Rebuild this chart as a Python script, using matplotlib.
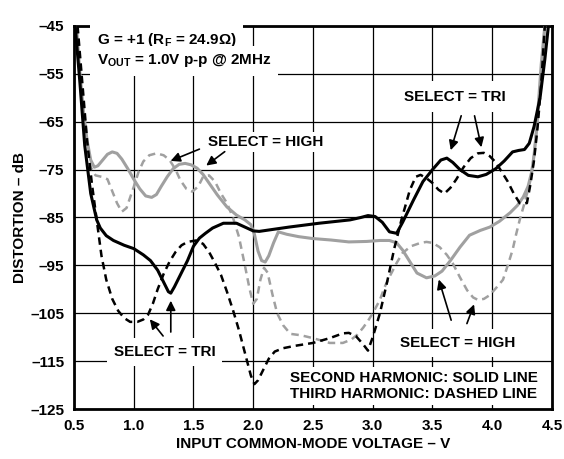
import matplotlib
matplotlib.use('Agg')
import matplotlib.pyplot as plt

# Fuente tipo Arial en negrita para todo el grafico
plt.rcParams['font.family'] = 'Liberation Sans'
plt.rcParams['font.weight'] = 'bold'
plt.rcParams['mathtext.fontset'] = 'custom'
plt.rcParams['mathtext.rm'] = 'Liberation Sans:bold'
plt.rcParams['mathtext.bf'] = 'Liberation Sans:bold'

# ---- datos ----
# SELECT = TRI, segundo armonico (negro, solido)
tri2_x = [0.51, 0.55, 0.59, 0.64, 0.69, 0.72, 0.77, 0.83, 0.92, 1.0, 1.08, 1.14, 1.20, 1.25, 1.29,
          1.31, 1.34, 1.40, 1.45, 1.50, 1.55, 1.60, 1.66, 1.75, 1.86, 1.93, 2.0, 2.05, 2.3, 2.55,
          2.81, 2.9, 2.96, 3.02, 3.08, 3.14, 3.2, 3.25, 3.34, 3.42, 3.5, 3.57, 3.62, 3.67, 3.73,
          3.8, 3.88, 3.95, 4.03, 4.10, 4.17, 4.22, 4.27, 4.31, 4.35, 4.40, 4.44, 4.47]
tri2_y = [-45, -57, -70, -80, -85.5, -87.2, -88.8, -89.8, -90.8, -91.5, -92.8, -94, -96, -98.5, -100.5,
          -100.8, -99.5, -96.5, -94, -91, -89.3, -88.3, -87.2, -86.2, -86.2, -87, -87.8, -87.9, -87, -86.2,
          -85.5, -85, -84.6, -84.8, -86, -88, -88.3, -86, -81.4, -77.5, -75, -73, -72.6, -73.5, -75,
          -76.2, -76.5, -76, -74.8, -73.2, -71.3, -71, -70.8, -69.5, -66, -60, -52, -45]

# SELECT = TRI, tercer armonico (negro, discontinuo)
tri3_x = [0.53, 0.57, 0.61, 0.65, 0.69, 0.73, 0.77, 0.82, 0.87, 0.92, 0.97, 1.03, 1.08, 1.12, 1.16,
          1.20, 1.25, 1.30, 1.35, 1.40, 1.45, 1.52, 1.58, 1.63, 1.68, 1.73, 1.78, 1.83, 1.88, 1.94,
          1.98, 2.01, 2.04, 2.08, 2.13, 2.18, 2.25, 2.35, 2.5, 2.64, 2.75, 2.80, 2.86, 2.92, 2.96,
          3.0, 3.06, 3.12, 3.18, 3.24, 3.31, 3.36, 3.40, 3.45, 3.50, 3.55, 3.60, 3.65, 3.70, 3.76,
          3.82, 3.88, 3.93, 3.98, 4.03, 4.08, 4.13, 4.18, 4.23, 4.29, 4.32, 4.35, 4.38, 4.41, 4.44]
tri3_y = [-45, -57, -69, -78, -85.5, -93, -98, -102, -104.5, -106, -106.8, -106.8, -106.3, -105.3, -103,
          -100, -96.8, -94.2, -92.2, -90.8, -90.1, -89.8, -90.5, -92.2, -94.5, -97, -100.5, -104.3, -108.5, -114.2,
          -118, -119.8, -119, -117, -114.5, -113, -112.3, -111.8, -111.2, -110.2, -109.2, -109.1, -109.8, -111.5, -112.8,
          -110, -105, -98.5, -91.5, -85.5, -79.3, -76.5, -76.1, -76.8, -77.8, -79.2, -80, -78.8, -77, -74.5,
          -72.6, -71.6, -71.5, -72.2, -73.5, -75.5, -77.5, -80, -82, -82, -78, -73, -66, -57, -45]

# SELECT = HIGH, segundo armonico (gris, solido)
high2_x = [0.52, 0.55, 0.58, 0.61, 0.64, 0.67, 0.70, 0.74, 0.78, 0.82, 0.86, 0.90, 0.95, 1.0, 1.05,
           1.10, 1.15, 1.19, 1.23, 1.28, 1.33, 1.38, 1.43, 1.48, 1.53, 1.58, 1.63, 1.70, 1.78, 1.86,
           1.93, 1.98, 2.01, 2.04, 2.07, 2.10, 2.13, 2.17, 2.21, 2.28, 2.38, 2.5, 2.65, 2.8, 2.95,
           3.06, 3.14, 3.20, 3.25, 3.30, 3.37, 3.45, 3.52, 3.58, 3.65, 3.73, 3.81, 3.90, 3.98, 4.06,
           4.15, 4.21, 4.26, 4.30, 4.33, 4.35, 4.37, 4.39, 4.41, 4.44]
high2_y = [-45, -55, -63, -69, -73, -74.5, -74.2, -73, -71.8, -71.3, -71.6, -72.8, -74.8, -77, -79,
           -80.5, -80.8, -80.2, -78.5, -76.5, -74.8, -73.9, -73.7, -74, -74.7, -76, -77.8, -80.3, -82.8, -84.5,
           -85.5, -86.5, -88.5, -92, -94, -94.3, -93, -90.3, -88, -88.5, -89, -89.4, -89.7, -90.1, -90,
           -89.8, -89.8, -90.3, -91.8, -93.8, -96.6, -97.6, -97.2, -96.2, -94, -91.2, -88.7, -87.7, -87, -85.8,
           -84, -82.5, -80.7, -78.5, -75.5, -72, -67, -60, -53, -45]

# SELECT = HIGH, tercer armonico (gris, discontinuo)
high3_x = [0.52, 0.55, 0.58, 0.61, 0.64, 0.68, 0.73, 0.78, 0.82, 0.86, 0.90, 0.94, 1.0, 1.04, 1.08,
           1.13, 1.19, 1.25, 1.30, 1.35, 1.39, 1.44, 1.49, 1.54, 1.58, 1.63, 1.68, 1.73, 1.78, 1.83,
           1.88, 1.93, 1.97, 2.0, 2.03, 2.06, 2.09, 2.12, 2.16, 2.20, 2.25, 2.31, 2.40, 2.50, 2.64,
           2.75, 2.82, 2.87, 2.92, 2.96, 3.0, 3.06, 3.10, 3.14, 3.20, 3.25, 3.32, 3.40, 3.45, 3.50,
           3.56, 3.62, 3.67, 3.73, 3.79, 3.84, 3.88, 3.93, 3.98, 4.04, 4.09, 4.13, 4.17, 4.20, 4.23,
           4.27, 4.32, 4.35, 4.38, 4.41, 4.44]
high3_y = [-45, -55, -64, -70, -74.5, -76.2, -76.5, -77, -79.5, -82, -83.8, -83, -78.6, -75.5, -73.3,
           -72, -71.6, -72, -73, -75, -77.2, -79, -79.6, -78.5, -76.5, -76.2, -77.5, -80, -82, -85,
           -89, -95, -100, -103, -102, -98, -95.5, -96.5, -101, -105, -107.5, -109.3, -109.6, -110.2, -111.2,
           -111.2, -110.5, -109.5, -108, -106.6, -105, -102.2, -99.5, -97.4, -94.5, -92.4, -91, -90.3, -90.1, -90.3,
           -91.2, -92.8, -94.6, -97.5, -100.2, -101.7, -102.2, -102, -101.2, -99.5, -98, -95, -91.8, -88.5, -85.5,
           -82, -77.2, -72, -64, -55, -45]

x_ticks = [0.5, 1.0, 1.5, 2.0, 2.5, 3.0, 3.5, 4.0, 4.5]
y_ticks = [-125, -115, -105, -95, -85, -75, -65, -55, -45]

gris = '#a0a0a0'

fig = plt.figure(figsize=(5.64, 4.59), dpi=100)
ax = fig.add_axes([0.1312, 0.1089, 0.8475, 0.8345])

# curvas
ax.plot(high3_x, high3_y, color=gris, lw=1.8, dashes=(3, 2), zorder=4)
ax.plot(high2_x, high2_y, color=gris, lw=2.2, zorder=5)
ax.plot(tri3_x, tri3_y, color='black', lw=1.8, dashes=(3, 2), zorder=6)
ax.plot(tri2_x, tri2_y, color='black', lw=2.2, zorder=7)

ax.set_xlim(0.5, 4.5)
ax.set_ylim(-125, -45)
ax.set_xticks(x_ticks)
ax.set_yticks(y_ticks)
ax.set_xticklabels([f'{v:.1f}' for v in x_ticks], fontsize=11, fontweight='bold')
ax.set_yticklabels([str(v).replace('-', '\u2013') for v in y_ticks], fontsize=11, fontweight='bold')
ax.tick_params(length=0, pad=7)
ax.grid(True, color='black', lw=0.9, zorder=1)
ax.set_axisbelow(True)
for s in ax.spines.values():
    s.set_linewidth(2.0)

ax.set_xlabel('INPUT COMMON-MODE VOLTAGE \u2013 V', fontsize=11, fontweight='bold', labelpad=3)
ax.set_ylabel('DISTORTION \u2013 dB', fontsize=11, fontweight='bold', labelpad=2)

caja = dict(facecolor='white', edgecolor='none', pad=2)

# textos de condiciones
ax.text(0.69, -47.9, 'G = +1 (R$_\\mathregular{F}$ = 24.9\u03a9)', fontsize=11, fontweight='bold',
        ha='left', va='center', zorder=3, bbox=dict(facecolor='white', edgecolor='none', pad=5))
ax.text(0.69, -52.3, 'V$_\\mathregular{OUT}$ = 1.0V p-p @ 2MHz', fontsize=11, fontweight='bold',
        ha='left', va='center', zorder=3, bbox=dict(facecolor='white', edgecolor='none', pad=5))

# etiquetas con flechas
flecha = dict(arrowstyle='-|>', color='black', lw=1.2, mutation_scale=14)

ax.text(2.10, -69.2, 'SELECT = HIGH', fontsize=11, fontweight='bold', ha='center', va='center',
        zorder=3, bbox=caja)
ax.annotate('', xy=(1.287, -73.4), xytext=(1.571, -70.5), arrowprops=flecha, zorder=8)
ax.annotate('', xy=(1.588, -74.5), xytext=(1.78, -70.9), arrowprops=flecha, zorder=8)

ax.text(3.69, -59.8, 'SELECT = TRI', fontsize=11, fontweight='bold', ha='center', va='center',
        zorder=3, bbox=dict(facecolor='white', edgecolor='none', pad=6))
ax.annotate('', xy=(3.646, -71.5), xytext=(3.747, -63.2), arrowprops=flecha, zorder=8)
ax.annotate('', xy=(3.914, -70.9), xytext=(3.847, -63.2), arrowprops=flecha, zorder=8)

ax.text(1.257, -113.1, 'SELECT = TRI', fontsize=11, fontweight='bold', ha='center', va='center',
        zorder=3, bbox=dict(facecolor='white', edgecolor='none', pad=5))
ax.annotate('', xy=(1.12, -105.8), xytext=(1.26, -110.2), arrowprops=flecha, zorder=8)
ax.annotate('', xy=(1.31, -101.8), xytext=(1.31, -109.5), arrowprops=flecha, zorder=8)

ax.text(3.71, -111.2, 'SELECT = HIGH', fontsize=11, fontweight='bold', ha='center', va='center',
        zorder=3, bbox=dict(facecolor='white', edgecolor='none', pad=5))
ax.annotate('', xy=(3.546, -97.4), xytext=(3.663, -107), arrowprops=flecha, zorder=8)
ax.annotate('', xy=(3.856, -102.6), xytext=(3.78, -107.7), arrowprops=flecha, zorder=8)

# leyenda en texto
ax.text(3.345, -120.2, 'SECOND HARMONIC: SOLID LINE\nTHIRD HARMONIC: DASHED LINE', fontsize=11,
        fontweight='bold', ha='center', va='center', linespacing=1.15, zorder=3,
        bbox=dict(facecolor='white', edgecolor='none', pad=3))

plt.savefig('out.png', dpi=100)
